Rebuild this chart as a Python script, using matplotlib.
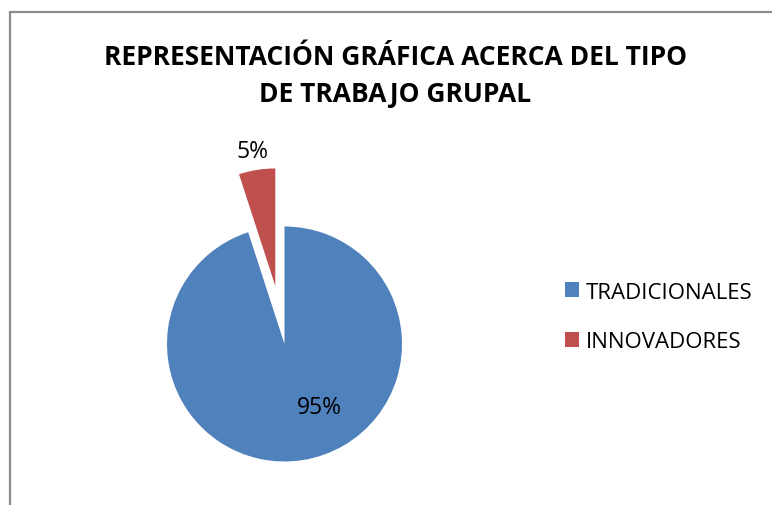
import matplotlib.pyplot as plt
from matplotlib.patches import Rectangle, Patch

categories = ["TRADICIONALES", "INNOVADORES"]
values = [95, 5]
pct_labels = ["95%", "5%"]
colors = ["#4F81BD", "#C0504D"]
title = "REPRESENTACIÓN GRÁFICA ACERCA DEL TIPO\nDE TRABAJO GRUPAL"

plt.rcParams["font.family"] = ["Open Sans", "DejaVu Sans"]

W, H = 772, 506
fig = plt.figure(figsize=(W / 100, H / 100), dpi=100)

# chart area frame (runs off the right and bottom edges)
fig.patches.append(Rectangle((9.5 / W, -0.1), 1.2, 1 - 12.5 / H + 0.1,
                             transform=fig.transFigure, fill=False,
                             edgecolor="#8c8c8c", linewidth=1.6))

# pie centre (284.5, 345) px, radius 117.5 px
r = 117.5
cx, cy = 284.5, H - 345
x0, x1, y0, y1 = -1.3, 1.3, -1.3, 1.7
ax = fig.add_axes([(cx + x0 * r) / W, (cy + y0 * r) / H,
                   (x1 - x0) * r / W, (y1 - y0) * r / H])
ax.pie(values, colors=colors, startangle=90, counterclock=False,
       explode=[0, 0.5], radius=1.0)
ax.set_xlim(x0, x1)
ax.set_ylim(y0, y1)
ax.set_aspect("auto")
ax.axis("off")

ax.text(0.30, -0.54, pct_labels[0], ha="center", va="center", fontsize=16.5)
ax.text(-0.27, 1.64, pct_labels[1], ha="center", va="center", fontsize=16.5)

fig.text(395 / W, 1 - 76 / H, title, ha="center", va="center",
         fontsize=19, fontweight="bold", linespacing=1.45)

handles = [Patch(facecolor=c, edgecolor="none") for c in colors]
fig.legend(handles, categories, loc="center left",
           bbox_to_anchor=(545 / W, 1 - 318 / H), frameon=False,
           fontsize=16, handlelength=0.65, handleheight=0.65,
           handletextpad=0.3, labelspacing=1.3)

fig.savefig("out.png", dpi=100)
